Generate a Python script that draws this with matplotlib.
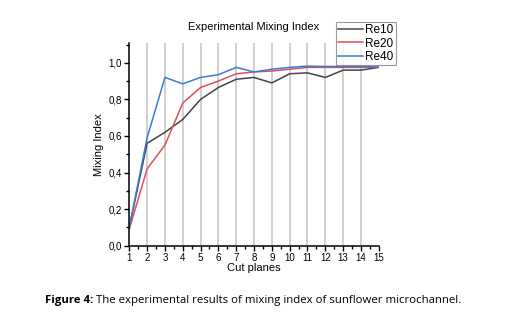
import matplotlib
matplotlib.use("Agg")
import matplotlib.pyplot as plt
from matplotlib.ticker import MultipleLocator, FuncFormatter

# Mixing index measured at each cut plane
cut_planes = list(range(1, 16))
re10 = [0.10, 0.56, 0.62, 0.69, 0.80, 0.865, 0.91, 0.92, 0.89, 0.94, 0.945, 0.92, 0.96, 0.96, 0.975]
re20 = [0.09, 0.42, 0.55, 0.78, 0.865, 0.90, 0.94, 0.95, 0.955, 0.965, 0.975, 0.975, 0.975, 0.975, 0.975]
re40 = [0.10, 0.59, 0.92, 0.885, 0.92, 0.935, 0.975, 0.95, 0.965, 0.975, 0.982, 0.98, 0.98, 0.98, 0.978]
series = [("Re10", re10, "#454545"), ("Re20", re20, "#e0505a"), ("Re40", re40, "#3a7bd5")]

plt.rcParams["font.family"] = ["Liberation Sans", "DejaVu Sans"]

fig = plt.figure(figsize=(5.32, 3.34), dpi=100)
ax = fig.add_axes([0.243, 0.2644, 0.469, 0.6056])

for x in cut_planes[1:-1]:
    ax.axvline(x, color="#c8c8c8", lw=1.2, zorder=0)

for name, vals, col in series:
    ax.plot(cut_planes, vals, color=col, lw=1.1, label=name)

ax.set_xlim(1, 15)
ax.set_ylim(0, 1.106)
ax.xaxis.set_major_locator(MultipleLocator(1))
ax.xaxis.set_minor_locator(MultipleLocator(0.5))
ax.yaxis.set_major_locator(MultipleLocator(0.2))
ax.yaxis.set_minor_locator(MultipleLocator(0.1))
ax.yaxis.set_major_formatter(FuncFormatter(lambda v, p: f"{v:.1f}".replace(".", ",")))
ax.tick_params(which="major", direction="out", length=3.5, width=1, labelsize=7, pad=2)
ax.tick_params(which="minor", direction="out", length=2, width=1)
for s in ("top", "right"):
    ax.spines[s].set_visible(False)
for s in ("left", "bottom"):
    ax.spines[s].set_linewidth(1.1)

ax.set_xlabel("Cut planes", fontsize=8, labelpad=0)
ax.set_ylabel("Mixing Index", fontsize=8, labelpad=3)
ax.set_title("Experimental Mixing Index", fontsize=8, pad=10)

leg = ax.legend(loc="upper left", bbox_to_anchor=(336 / 532, 1 - 22 / 334),
                bbox_transform=fig.transFigure, fontsize=8.5, frameon=True,
                fancybox=False, handlelength=2.1, handletextpad=0.15,
                borderpad=0.2, labelspacing=0.1, borderaxespad=0)
leg.get_frame().set_edgecolor("#808080")
leg.get_frame().set_linewidth(0.8)

# caption: bold label followed by plain text
cap_y = 1 - 300 / 334
bold = fig.text(45 / 532, cap_y, "Figure 4:", fontsize=8.2, family="Open Sans",
                fontweight="bold", va="center")
renderer = fig.canvas.get_renderer()
bb = bold.get_window_extent(renderer)
fig.text(bb.x1 / fig.bbox.width + 3 / 532, cap_y,
         "The experimental results of mixing index of sunflower microchannel.",
         fontsize=8.2, family="Open Sans", va="center")

fig.savefig("out.png", dpi=100)
